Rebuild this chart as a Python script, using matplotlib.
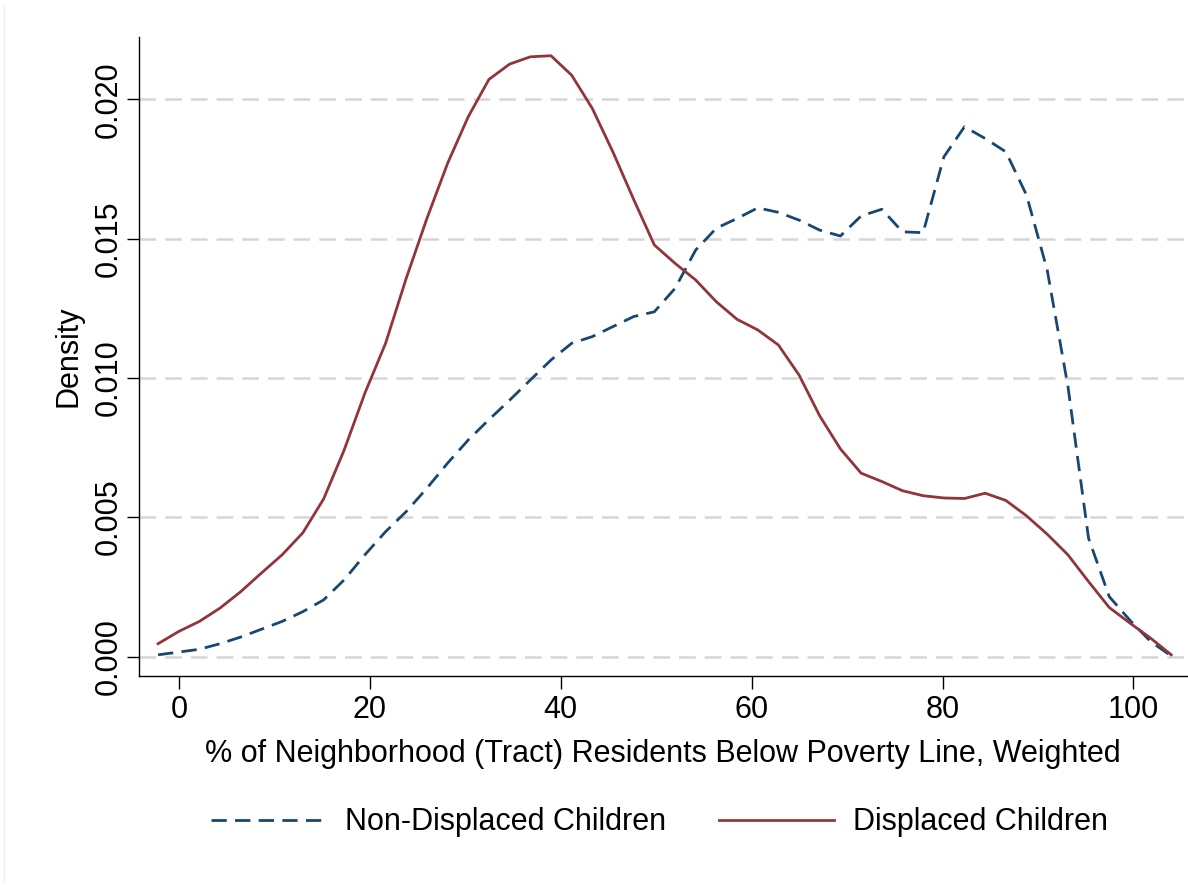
import matplotlib
matplotlib.use("Agg")
import matplotlib.pyplot as plt
from matplotlib.lines import Line2D

# kernel density estimates (50 evaluation points)
poverty_pct = [-2.2, -0.03, 2.13, 4.30, 6.47, 8.64, 10.80, 12.97, 15.14, 17.30,
               19.47, 21.64, 23.80, 25.97, 28.14, 30.30, 32.47, 34.64, 36.80, 38.97,
               41.14, 43.30, 45.47, 47.64, 49.80, 51.97, 54.14, 56.30, 58.47, 60.64,
               62.80, 64.97, 67.14, 69.30, 71.47, 73.64, 75.80, 77.97, 80.14, 82.30,
               84.47, 86.64, 88.80, 90.97, 93.14, 95.30, 97.47, 99.64, 101.80, 103.97]

non_displaced = [0.00006, 0.00016, 0.00026, 0.00046, 0.00070, 0.00098, 0.00126, 0.00161, 0.00203, 0.00275,
                 0.00365, 0.00448, 0.00520, 0.00604, 0.00694, 0.00777, 0.00850, 0.00920, 0.00992, 0.01064,
                 0.01124, 0.01148, 0.01184, 0.01220, 0.01237, 0.01321, 0.01459, 0.01537, 0.01572, 0.01610,
                 0.01594, 0.01566, 0.01530, 0.01509, 0.01581, 0.01605, 0.01524, 0.01521, 0.01793, 0.01901,
                 0.01859, 0.01811, 0.01656, 0.01387, 0.00970, 0.00425, 0.00215, 0.00130, 0.00054, 0.00002]

displaced = [0.00046, 0.00090, 0.00126, 0.00174, 0.00233, 0.00300, 0.00365, 0.00444, 0.00565, 0.00741,
             0.00945, 0.01124, 0.01357, 0.01572, 0.01770, 0.01937, 0.02071, 0.02126, 0.02152, 0.02156,
             0.02086, 0.01967, 0.01810, 0.01640, 0.01477, 0.01411, 0.01351, 0.01273, 0.01210, 0.01172,
             0.01118, 0.01010, 0.00863, 0.00745, 0.00658, 0.00628, 0.00595, 0.00577, 0.00569, 0.00567,
             0.00586, 0.00560, 0.00505, 0.00439, 0.00365, 0.00269, 0.00176, 0.00120, 0.00066, 0.00006]

x_ticks = [0, 20, 40, 60, 80, 100]
y_ticks = [0.000, 0.005, 0.010, 0.015, 0.020]
series_labels = ["Non-Displaced Children", "Displaced Children"]

NAVY = "#1a476f"
MAROON = "#90353b"
FS = 22

plt.rcParams["font.family"] = ["Liberation Sans", "DejaVu Sans"]
plt.rcParams["lines.scale_dashes"] = False

fig = plt.figure(figsize=(11.88, 8.86), dpi=100)
ax = fig.add_axes([0.117, 0.237, 0.882, 0.7215])

for y in y_ticks:
    ax.axhline(y, color="#d6d6d6", lw=1.8, dashes=(12, 6.5), zorder=0)

ax.plot(poverty_pct, non_displaced, color=NAVY, lw=2, dashes=(11, 6))
ax.plot(poverty_pct, displaced, color=MAROON, lw=2)

ax.set_xlim(-4.2, 105.6)
ax.set_ylim(-0.0007, 0.02224)
ax.set_xticks(x_ticks)
ax.set_yticks(y_ticks)
ax.set_yticklabels([f"{v:.3f}" for v in y_ticks], rotation=90, va="center")
ax.tick_params(length=9, width=1, labelsize=FS, pad=5)
ax.tick_params(axis="y", pad=2)

for s in ["top", "right"]:
    ax.spines[s].set_visible(False)
for s in ["left", "bottom"]:
    ax.spines[s].set_linewidth(1)

ax.set_xlabel("% of Neighborhood (Tract) Residents Below Poverty Line, Weighted",
              fontsize=FS, labelpad=10)
ax.set_ylabel("Density", fontsize=FS, labelpad=7)

handles = [Line2D([], [], color=NAVY, lw=2, dashes=(11, 6)),
           Line2D([], [], color=MAROON, lw=2)]
fig.legend(handles, series_labels, loc="center", bbox_to_anchor=(0.555, 0.072),
           ncol=2, frameon=False, fontsize=FS, handlelength=3.76,
           columnspacing=1.73, handletextpad=0.62)

# faint outer graph-region edge on the left
fig.add_artist(Line2D([4 / 1188, 4 / 1188], [0.005, 0.994], color="#e6eff1", lw=1))

fig.savefig("out.png", dpi=100, facecolor="white")
